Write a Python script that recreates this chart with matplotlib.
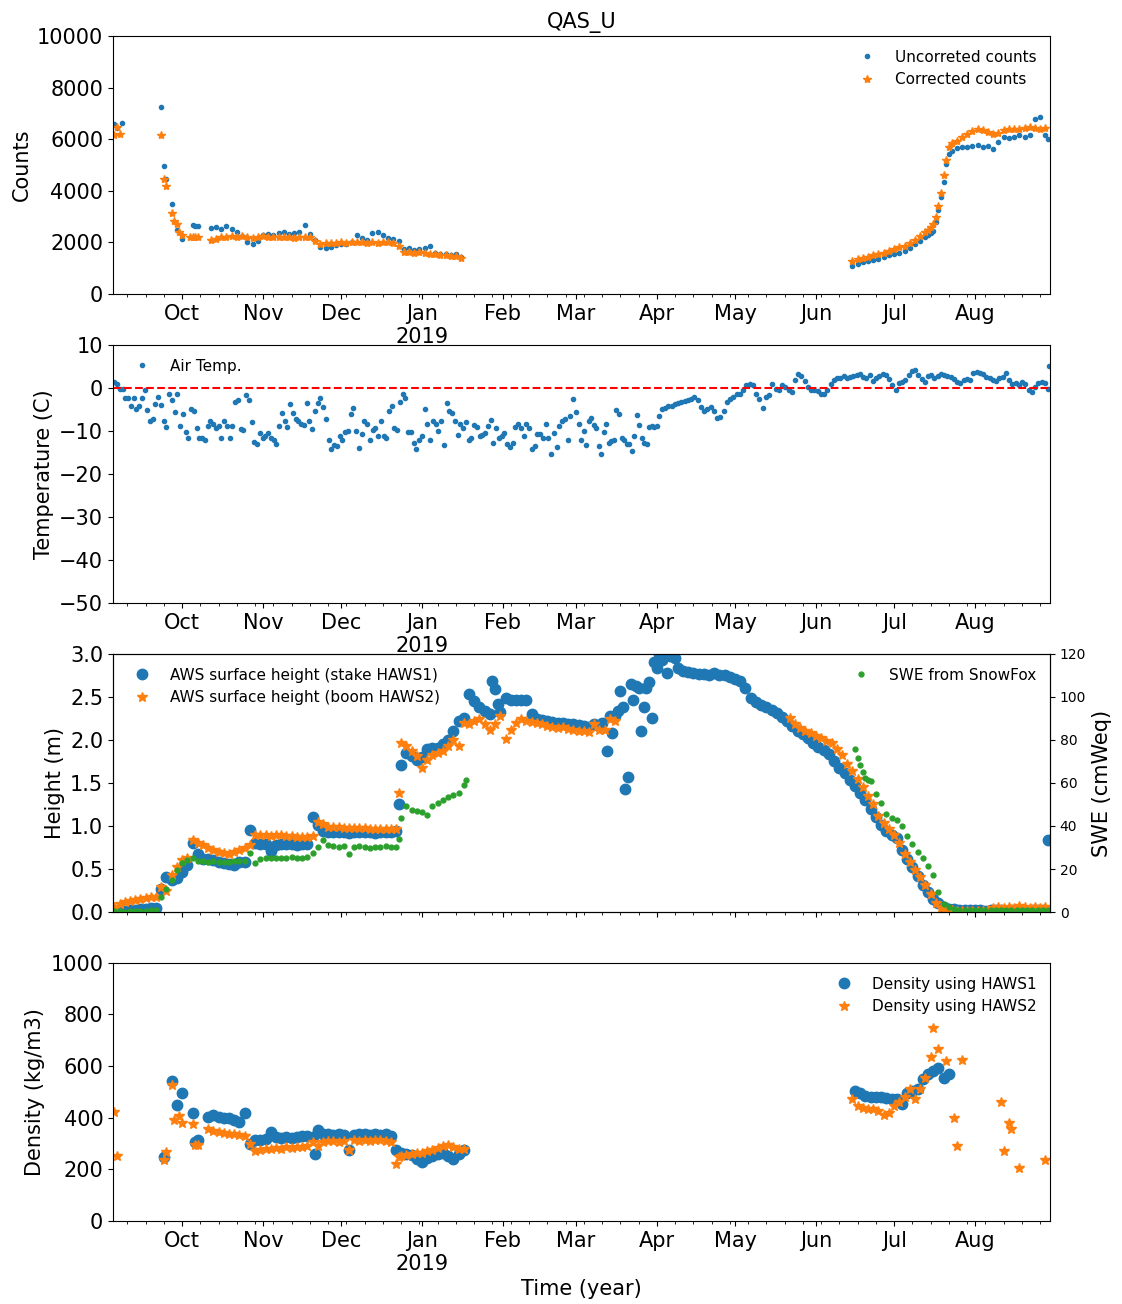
import pandas as pd
import matplotlib
matplotlib.use('Agg')
import matplotlib.pyplot as plt
import matplotlib.dates as mdates
from matplotlib.ticker import FuncFormatter, MultipleLocator

# ---------------- counts (QAS_U neutron counts) ----------------
cnt_raw_pts_d = ['2018-09-05', '2018-09-06', '2018-09-08', '2018-09-23', '2018-09-24', '2018-09-25',
                 '2018-09-27', '2018-09-29', '2018-10-01', '2018-10-05', '2018-10-06', '2018-10-07',
                 '2019-08-29']
cnt_raw_pts_v = [6580, 6450, 6630, 7230, 4950, 4470, 3500, 2490, 2140, 2660, 2650, 2620, 6020]
cnt_raw_fall = [2560, 2580, 2520, 2640, 2540, 2400, 2250, 2000, 1950, 2070,
                2300, 2330, 2280, 2350, 2400, 2330, 2380, 2420, 2690, 2330, 2100, 1820, 1800, 1830, 1900,
                1930, 1950, 2000, 2270, 2180, 2100, 2350, 2400, 2300, 2180, 2150, 2050, 1750, 1780, 1700, 1760,
                1800, 1850, 1600, 1570, 1550, 1520, 1560, 1420]          # from 2018-10-12, every 2 days
cnt_raw_jun = [1100, 1180, 1230, 1290, 1330, 1360, 1450, 1500, 1550, 1600, 1680, 1800, 1950, 2050, 2200]
cnt_raw_jul = [2300, 2380, 2460, 2780, 3240, 3760, 4340, 5050, 5440, 5550]   # daily from 2019-07-14
cnt_raw_aug = [5650, 5700, 5680, 5720, 5760, 5700, 5720, 5630, 5900, 6090, 6060, 6100, 6150, 6090,
               6150, 6800, 6870, 6150]

cnt_cor_pts_d = ['2018-09-05', '2018-09-06', '2018-09-07', '2018-09-23', '2018-09-24', '2018-09-25',
                 '2018-09-27', '2018-09-28', '2018-09-29', '2018-09-30', '2018-10-01', '2018-10-04',
                 '2018-10-05', '2018-10-06', '2018-10-07']
cnt_cor_pts_v = [6150, 6480, 6220, 6150, 4470, 4170, 3150, 2820, 2720, 2400, 2270, 2200, 2230, 2200, 2220]
cnt_cor_fall = [2100, 2150, 2200, 2230, 2250, 2230, 2250, 2200, 2180, 2230,
                2250, 2230, 2220, 2200, 2230, 2200, 2180, 2230, 2220, 2200, 2070, 1940, 1970, 1980, 1990,
                2000, 1980, 2010, 2000, 2020, 1990, 2000, 1980, 2010, 2000, 1990, 1850, 1620, 1620, 1600, 1620,
                1600, 1570, 1550, 1520, 1500, 1480, 1460, 1380]
cnt_cor_jun = [1300, 1350, 1400, 1440, 1500, 1550, 1600, 1680, 1750, 1820, 1880, 1980, 2100, 2250, 2400]
cnt_cor_jul = [2500, 2600, 2720, 2980, 3430, 3900, 4600, 5180, 5700, 5850]
cnt_cor_aug = [5950, 6090, 6200, 6300, 6410, 6350, 6280, 6220, 6250, 6350, 6410, 6380, 6410, 6450,
               6480, 6420, 6410, 6450]

# ---------------- air temperature ----------------
temp_winter = [1.4, 1.0, -0.2, -0.2, -2.3, -2.3, -4.1, -2.3, -4.9, -4.3,
               -2.3, -0.6, -5.1, -7.6, -7.2, -3.7, -2.0, -3.9, -7.6, -9.1,
               -1.5, -2.8, -5.7, -1.5, -8.8, -6.1, -10.2, -11.6, -4.9, -5.3,
               -9.4, -11.7, -11.6, -12.0, -8.8, -7.6, -8.4, -9.4, -8.8, -11.7,
               -7.6, -8.8, -11.6, -8.8, -3.3, -2.8, -9.6, -9.8, -1.7, -2.9,
               -8.0, -12.5, -13.1, -10.4, -11.7, -11.2, -10.4, -11.7, -12.2, -13.1,
               -8.8, -5.9, -7.6, -9.1, -3.7, -5.9, -7.2, -7.6, -8.4, -8.6,
               -3.5, -7.6, -9.6, -5.3, -3.5, -2.3, -4.5, -7.2, -12.2, -14.1,
               -13.3, -13.5, -11.2, -12.0, -10.2, -10.0, -6.1, -4.6, -10.0, -13.9,
               -10.8, -7.8, -8.4, -12.0, -9.8, -9.4, -11.2, -7.6, -11.2, -11.6,
               -5.3, -4.1, -9.4, -9.8, -3.3, -1.5, -2.3, -10.2, -10.2, -12.8,
               -14.1, -12.0, -11.2, -4.9, -8.4, -12.2, -7.8, -8.3, -10.0, -7.8,
               -13.3, -3.5, -5.4, -5.9, -7.6, -10.9, -8.4, -9.4, -8.0, -12.0,
               -11.6, -8.6, -9.1, -11.2, -10.9, -10.4, -8.8, -7.5, -12.8, -9.4,
               -11.6, -11.2, -10.4, -13.1, -13.8, -12.8, -9.1, -8.4, -9.4, -11.2,
               -8.4, -9.4, -14.1, -13.5, -10.6, -10.8, -11.6, -8.4, -11.7, -15.4,
               -10.4, -13.8, -8.8, -7.8, -7.2, -12.2, -6.5, -2.5, -5.7, -8.4]   # 2018-09-05 .. 2019-03-02
temp_march = [-12.2, -10.0, -13.3, -7.6, -7.0, -8.6, -9.4, -13.5, -15.4, -10.2, -8.3, -12.8, -12.4,
              -12.0, -5.1, -6.1, -11.6, -12.0, -13.0, -13.1, -14.7, -11.2, -6.2, -8.6, -11.6, -12.8,
              -13.1, -9.1, -8.8, -9.1, -8.8, -6.5]                          # 2019-03-03 .. 2019-04-02
temp_summer = [-4.9, -4.6, -4.3, -4.1, -3.7, -3.5, -3.3, -3.1, -2.8, -2.5,
               -2.1, -2.9, -4.5, -5.3, -4.9, -4.5, -5.3, -7.0, -6.7, -5.3,
               -3.3, -2.5, -2.0, -1.5, -1.3, -0.6, 0.6, 0.9, 0.6, -1.3,
               -2.5, -4.7, -2.0, -1.7, 0.9, -0.2, -0.6, 0.6, 0.2, -0.6,
               -0.9, 1.8, 3.2, 2.8, 1.7, 0.2, -0.4, -0.6, -0.7, -1.3,
               -1.5, -0.6, 1.0, 1.8, 2.2, 2.4, 2.8, 2.4, 2.6, 2.8,
               3.0, 3.2, 2.6, 2.2, 3.0, 1.7, 2.2, 2.8, 3.2, 3.0,
               2.0, 0.6, -0.4, 1.2, 1.4, 1.8, 3.0, 4.0, 4.2, 3.0,
               2.0, 1.4, 2.8, 3.0, 2.2, 2.8, 3.2, 3.0, 2.8, 2.6,
               2.0, 1.4, 1.2, 1.8, 2.0, 1.8, 3.4, 3.8, 3.5, 3.2,
               2.6, 2.2, 1.8, 1.7, 2.2, 2.6, 3.4, 1.8, 1.0, 1.2,
               0.6, 1.4, 1.0, -0.6, -0.9, 0.2, 1.2, 1.4, 1.2, -0.2]       # 2019-04-03 .. 2019-08-29
temp_last = 5.0

# ---------------- surface height (m) ----------------
h1_sep = [0.02, 0.01, 0.01, 0.02, 0.02, 0.03, 0.04, 0.05, 0.05]
h1_winter = [0.27, 0.41, 0.37, 0.40,
             0.47, 0.55, 0.80, 0.68, 0.62, 0.62, 0.60, 0.58, 0.57, 0.56, 0.55, 0.58, 0.58, 0.95, 0.80, 0.79,
             0.79, 0.71, 0.78, 0.79, 0.79, 0.79, 0.78, 0.79, 0.79, 1.11, 1.01, 0.94, 0.93, 0.93, 0.93,
             0.93, 0.92, 0.93, 0.93, 0.93, 0.93, 0.92, 0.93, 0.93, 0.93, 0.94, 1.71, 1.85, 1.81, 1.77,
             1.80, 1.89, 1.91, 1.91, 1.95, 2.00, 2.10, 2.22, 2.26, 2.53, 2.45, 2.38, 2.34, 2.30, 2.59, 2.32,
             2.49, 2.47, 2.46, 2.47, 2.47, 2.30, 2.24, 2.23, 2.22, 2.21, 2.20, 2.20, 2.19, 2.18,
             2.17, 2.16, 2.15, 2.18, 2.16]                                  # from 2018-09-23, every 2 days
h1_pts_d = ['2018-12-23', '2019-01-28', '2019-01-30',
            '2019-03-11', '2019-03-13', '2019-03-14', '2019-03-15', '2019-03-16', '2019-03-17',
            '2019-03-18', '2019-03-19', '2019-03-20', '2019-03-21', '2019-03-22', '2019-03-23',
            '2019-03-24', '2019-03-25', '2019-03-26', '2019-03-27', '2019-03-28', '2019-03-29',
            '2019-03-30', '2019-03-31', '2019-04-01', '2019-04-02', '2019-04-03', '2019-04-05',
            '2019-04-06', '2019-04-08', '2019-04-09', '2019-08-29']
h1_pts_v = [1.25, 2.69, 2.42,
            2.20, 1.87, 2.28, 2.08, 2.28, 2.34, 2.57, 2.38, 1.43, 1.57, 2.65, 2.47, 2.63, 2.61, 2.10,
            2.38, 2.61, 2.67, 2.26, 2.91, 2.84, 3.00, 2.93, 2.78, 2.98, 2.95, 2.84, 0.84]
h1_melt = [2.80, 2.79, 2.78, 2.77, 2.77, 2.76, 2.78, 2.76, 2.75, 2.73,
           2.71, 2.68, 2.60, 2.49, 2.44, 2.41, 2.38, 2.35, 2.31, 2.27, 2.22, 2.16, 2.11, 2.07, 2.02, 1.97,
           1.92, 1.88, 1.84, 1.76, 1.68, 1.62, 1.54, 1.46, 1.38, 1.30, 1.20, 1.10, 1.01, 0.94, 0.90,
           0.86, 0.72, 0.62, 0.52, 0.42, 0.31, 0.23, 0.15, 0.10, 0.06, 0.04, 0.03, 0.02, 0.02, 0.02,
           0.02, 0.02, 0.01, 0.02, 0.02, 0.02, 0.01, 0.02, 0.02, 0.02, 0.01, 0.02, 0.02, 0.02]  # from 2019-04-11

h2_sep = [0.06, 0.09, 0.12, 0.13, 0.14, 0.15, 0.16, 0.17, 0.18]
h2_winter = [0.29, 0.25, 0.43, 0.52,
             0.61, 0.63, 0.84, 0.80, 0.78, 0.75, 0.72, 0.70, 0.69, 0.68, 0.70, 0.72, 0.75, 0.78, 0.90, 0.89,
             0.89, 0.88, 0.89, 0.89, 0.88, 0.88, 0.87, 0.87, 0.87, 0.88, 1.05, 1.02, 0.99, 0.99, 0.99,
             0.98, 0.98, 0.98, 0.98, 0.98, 0.97, 0.97, 0.97, 0.97, 0.97, 0.97, 1.97, 1.93, 1.87, 1.81,
             1.68, 1.77, 1.83, 1.85, 1.87, 1.93, 2.00, 1.93, 2.20, 2.18, 2.22, 2.24, 2.18, 2.12, 2.18, 2.28,
             2.01, 2.12, 2.20, 2.24, 2.22, 2.21, 2.20, 2.18, 2.16, 2.15, 2.14, 2.15, 2.13, 2.12,
             2.11, 2.10, 2.09, 2.18, 2.12, 2.12, 2.24, 2.22]
h2_pts_d = ['2018-12-23']
h2_pts_v = [1.38]
h2_melt = [2.26, 2.18, 2.14, 2.11, 2.08,
           2.05, 2.02, 1.99, 1.96, 1.90, 1.82, 1.72, 1.64, 1.55, 1.45, 1.35, 1.25, 1.12, 1.04, 0.97,
           0.90, 0.80, 0.68, 0.58, 0.49, 0.41, 0.31, 0.21, 0.10, 0.05, 0.03, 0.02, 0.01, 0.01, 0.01, 0.01,
           0.01, 0.01, 0.02, 0.05, 0.06, 0.05, 0.06, 0.05, 0.07, 0.06, 0.05, 0.06, 0.05, 0.06]  # from 2019-05-22

# ---------------- SWE from SnowFox (cmWeq) ----------------
swe_sep = [0.5, 0.3, 0.2, 0.3, 0.4, 0.5, 0.6, 0.8, 1.0]
swe_winter = [7.0, 10.9, 14.8, 19.5,
              22.6, 24.2, 24.9, 23.8, 23.5, 23.3, 23.5, 23.2, 23.4, 23.3, 23.5, 23.6, 23.5, 27.3, 22.9, 24.5,
              25.0, 25.2, 25.0, 25.3, 25.1, 25.4, 25.3, 25.2, 25.5, 27.3, 30.4, 33.5, 31.0, 30.5, 30.4,
              30.6, 26.8, 30.2, 30.5, 30.3, 30.0, 30.4, 30.2, 30.5, 30.1, 30.3, 43.6, 49.1, 47.5, 46.8,
              46.5, 45.2, 49.1, 50.6, 52.2, 53.5, 54.5, 55.3, 59.2]
swe_pts_d = ['2018-12-23', '2019-01-18', '2019-06-17', '2019-06-19', '2019-06-21']
swe_pts_v = [33.8, 61.5, 71.7, 65.0, 61.5]
swe_melt = [75.6, 68.5, 62.3, 60.8, 54.8, 50.6, 45.5, 43.8,
            43.0, 40.0, 35.5, 31.5, 28.0, 25.0, 21.5, 17.0, 9.4, 3.9, 2.3, 1.3, 1.1, 1.0, 1.0,
            0.9, 0.8, 0.9, 1.0, 0.9, 0.8, 0.9, 0.9, 1.0, 0.9, 0.8, 0.9, 0.9, 1.0, 0.9]     # from 2019-06-16

# ---------------- density (kg/m3) ----------------
d1_pts_d = ['2018-09-24', '2018-09-27', '2018-09-29', '2018-10-01', '2018-10-05', '2018-10-06',
            '2018-10-07', '2018-11-21']
d1_pts_v = [248, 541, 450, 495, 417, 306, 315, 258]
d1_winter = [404, 410, 404, 398, 400, 392, 385, 417, 300, 313, 315,
             318, 345, 325, 322, 326, 322, 325, 328, 330, 325, 354, 338, 335, 333, 336,
             332, 274, 334, 336, 338, 332, 335, 333, 335, 330, 274, 262, 258, 255, 240,
             230, 245, 250, 258, 262, 250, 240, 258, 274]                   # from 2018-10-11
d1_summer = [503, 495, 484, 481, 482, 480, 476, 473, 471, 455, 497, 505, 510, 549, 568, 581, 594, 555, 568]

d2_pts_d = ['2018-09-05', '2018-09-06', '2018-09-24', '2018-09-25', '2018-09-27', '2018-09-28',
            '2018-09-30', '2018-10-01', '2018-10-05', '2018-10-06', '2018-10-07', '2018-12-23',
            '2019-07-15', '2019-07-16', '2019-07-18', '2019-07-21', '2019-07-24', '2019-07-25',
            '2019-07-27', '2019-08-11', '2019-08-12', '2019-08-14', '2019-08-15', '2019-08-18',
            '2019-08-28']
d2_pts_v = [423, 250, 237, 267, 528, 391, 407, 378, 375, 293, 293, 248,
            636, 749, 665, 619, 399, 289, 622, 460, 270, 380, 356, 205, 237]
d2_winter = [358, 350, 345, 340, 338, 335, 332, 330, 300, 270, 275,
             278, 280, 282, 280, 285, 283, 286, 287, 290, 306, 292, 306, 308, 310, 306,
             308, 274, 312, 310, 313, 310, 313, 312, 310, 305, 222, 250, 254, 258, 262,
             265, 270, 275, 282, 290, 293, 285, 280, 280]
d2_summer = [471, 445, 438, 432, 432, 425, 412, 419, 445, 460, 480, 510, 471, 510, 555]


def seg(start, vals, step=2):
    return pd.Series(vals, index=pd.date_range(start, periods=len(vals), freq=f'{step}D'))


def span(start, end, vals):
    return pd.Series(vals, index=pd.date_range(start, end, periods=len(vals)))


def pts(dates, vals):
    return pd.Series(vals, index=pd.to_datetime(dates))


def join(*parts):
    return pd.concat(parts).sort_index()


cnt_raw = join(pts(cnt_raw_pts_d, cnt_raw_pts_v), seg('2018-10-12', cnt_raw_fall),
               seg('2019-06-15', cnt_raw_jun), seg('2019-07-14', cnt_raw_jul, 1), seg('2019-07-25', cnt_raw_aug))
cnt_cor = join(pts(cnt_cor_pts_d, cnt_cor_pts_v), seg('2018-10-12', cnt_cor_fall),
               seg('2019-06-15', cnt_cor_jun), seg('2019-07-14', cnt_cor_jul, 1), seg('2019-07-25', cnt_cor_aug))
temp = join(span('2018-09-05', '2019-03-02', temp_winter), span('2019-03-03', '2019-04-02', temp_march),
            span('2019-04-03', '2019-08-29', temp_summer), pts(['2019-08-29 12:00'], [temp_last]))
h1 = join(seg('2018-09-05', h1_sep), seg('2018-09-23', h1_winter), pts(h1_pts_d, h1_pts_v),
          seg('2019-04-11', h1_melt))
h2 = join(seg('2018-09-05', h2_sep), seg('2018-09-23', h2_winter), pts(h2_pts_d, h2_pts_v),
          seg('2019-05-22', h2_melt))
swe = join(seg('2018-09-05', swe_sep), seg('2018-09-23', swe_winter), pts(swe_pts_d, swe_pts_v),
           seg('2019-06-16', swe_melt))
d1 = join(pts(d1_pts_d, d1_pts_v), seg('2018-10-11', d1_winter), seg('2019-06-16', d1_summer))
d2 = join(pts(d2_pts_d, d2_pts_v), seg('2018-10-11', d2_winter), seg('2019-06-15', d2_summer))

plt.rcParams['font.size'] = 15
plt.rcParams['legend.fontsize'] = 11
plt.rcParams['axes.unicode_minus'] = True

fig = plt.figure(figsize=(11.22, 13.04), dpi=100)
L, W, H = 0.1007, 0.8351, 0.1979
ax1 = fig.add_axes([L, 0.7745, W, H])
ax2 = fig.add_axes([L, 0.5376, W, H])
ax3 = fig.add_axes([L, 0.3006, W, H])
ax4 = fig.add_axes([L, 0.0637, W, H])


def month_label(x, pos=None):
    d = mdates.num2date(x)
    return d.strftime('%b\n%Y') if d.month == 1 else d.strftime('%b')


xlim = (pd.Timestamp('2018-09-04 12:00'), pd.Timestamp('2019-08-29 18:00'))
for ax in (ax1, ax2, ax3, ax4):
    ax.xaxis.set_major_locator(mdates.MonthLocator())
    ax.xaxis.set_minor_locator(mdates.WeekdayLocator(byweekday=mdates.MO))
    ax.xaxis.set_major_formatter(FuncFormatter(month_label))
    ax.set_xlim(xlim)

# panel 1
ax1.plot(cnt_raw.index, cnt_raw.values, '.', color='C0', label='Uncorreted counts')
ax1.plot(cnt_cor.index, cnt_cor.values, '*', color='C1', label='Corrected counts')
ax1.set_ylim(0, 10000)
ax1.yaxis.set_major_locator(MultipleLocator(2000))
ax1.set_ylabel('Counts')
ax1.set_title('QAS_U', fontsize=15)
ax1.legend(loc='upper right', frameon=False, numpoints=1)

# panel 2
ax2.plot(temp.index, temp.values, '.', color='C0', label='Air Temp.')
ax2.axhline(0, color='red', linestyle='--')
ax2.set_ylim(-50, 10)
ax2.yaxis.set_major_locator(MultipleLocator(10))
ax2.set_ylabel('Temperature (C)')
ax2.legend(loc='upper left', frameon=False, numpoints=1)

# panel 3
ax3.plot(h1.index, h1.values, 'o', color='C0', markersize=7.5, label='AWS surface height (stake HAWS1)')
ax3.plot(h2.index, h2.values, '*', color='C1', markersize=7, label='AWS surface height (boom HAWS2)')
ax3.set_ylim(0, 3)
ax3.yaxis.set_major_locator(MultipleLocator(0.5))
ax3.set_ylabel('Height (m)')
ax3.tick_params(axis='x', labelbottom=False)
ax3.legend(loc='upper left', frameon=False, numpoints=1)
ax3r = ax3.twinx()
ax3r.plot(swe.index, swe.values, '.', color='C2', markersize=7, label='SWE from SnowFox')
ax3r.set_ylim(0, 120)
ax3r.yaxis.set_major_locator(MultipleLocator(20))
ax3r.tick_params(axis='y', labelsize=10)
ax3r.set_ylabel('SWE (cmWeq)')
ax3r.set_xlim(xlim)
ax3r.legend(loc='upper right', frameon=False, numpoints=1)

# panel 4
ax4.plot(d1.index, d1.values, 'o', color='C0', markersize=7.5, label='Density using HAWS1')
ax4.plot(d2.index, d2.values, '*', color='C1', markersize=7, label='Density using HAWS2')
ax4.set_ylim(0, 1000)
ax4.yaxis.set_major_locator(MultipleLocator(200))
ax4.set_ylabel('Density (kg/m3)')
ax4.set_xlabel('Time (year)')
ax4.legend(loc='upper right', frameon=False, numpoints=1)

fig.savefig('out.png', dpi=100)
